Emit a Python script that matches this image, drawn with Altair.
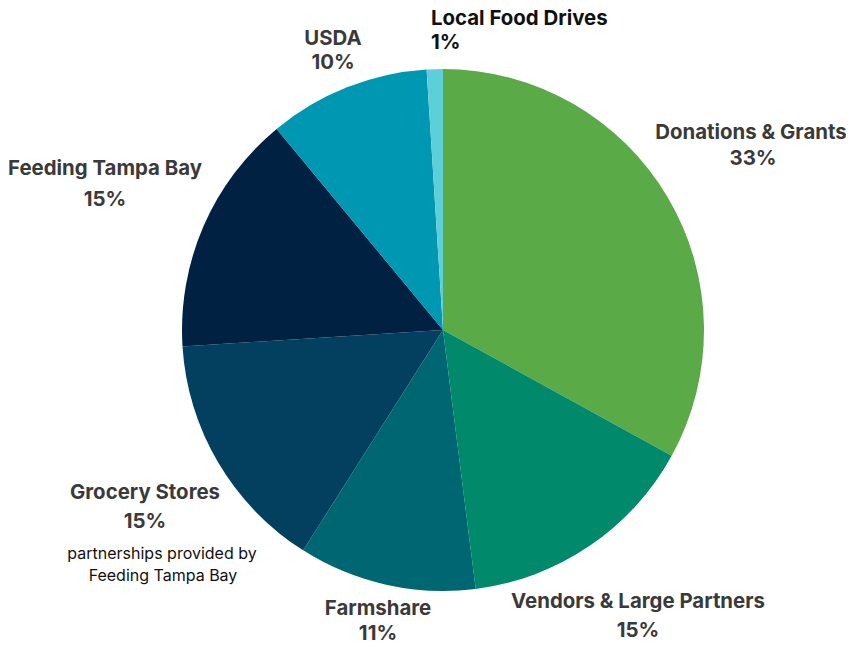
import altair as alt
import pandas as pd

categories = ["Donations & Grants", "Vendors & Large Partners", "Farmshare",
              "Grocery Stores", "Feeding Tampa Bay", "USDA", "Local Food Drives"]
shares = [33, 15, 11, 15, 15, 10, 1]
colors = ["#5aab48", "#00896a", "#006672", "#033f5f", "#002142", "#0097b2", "#5ccfd8"]

# label text lines and layout (pixel positions inside the plot area)
label_lines = ["Donations & Grants", "33%",
               "Vendors & Large Partners", "15%",
               "Farmshare", "11%",
               "Grocery Stores", "15%",
               "Feeding Tampa Bay", "15%",
               "USDA", "10%",
               "Local Food Drives", "1%"]
label_x = [743, 745, 630, 630, 370, 370, 137, 137, 97, 97, 325, 325, 423, 423]
label_y = [125, 151, 594, 623, 601, 626, 485, 514, 161, 192, 31, 55, 11, 35]
label_align = ["center"] * 12 + ["left", "left"]
label_color = ["#3a3a3a"] * 12 + ["#111111", "#111111"]

note_lines = ["partnerships provided by", "Feeding Tampa Bay"]
note_x = [154, 155]
note_y = [546, 568]

pie_df = pd.DataFrame({"category": categories, "share": shares,
                       "idx": list(range(len(categories)))})
lab_df = pd.DataFrame({"t": label_lines, "px": label_x, "py": label_y,
                       "al": label_align, "col": label_color})
note_df = pd.DataFrame({"t": note_lines, "px": note_x, "py": note_y})

pie = alt.Chart(pie_df).mark_arc(outerRadius=261).encode(
    theta=alt.Theta("share:Q", stack=True),
    order=alt.Order("idx:Q"),
    color=alt.Color("category:N", scale=alt.Scale(domain=categories, range=colors), legend=None),
    x=alt.value(435), y=alt.value(322),
)

def text_layer(df, align):
    return alt.Chart(df).transform_filter(alt.datum.al == align).mark_text(
        font="Inter", fontSize=20.4, fontWeight="bold", align=align, baseline="middle"
    ).encode(
        x=alt.X("px:Q", scale=None, axis=None),
        y=alt.Y("py:Q", scale=None, axis=None),
        text="t:N",
        color=alt.Color("col:N", scale=None),
    )

labels_c = text_layer(lab_df, "center")
labels_l = text_layer(lab_df, "left")

notes = alt.Chart(note_df).mark_text(
    font="Inter", fontSize=16, align="center", baseline="middle", color="#111111"
).encode(
    x=alt.X("px:Q", scale=None, axis=None),
    y=alt.Y("py:Q", scale=None, axis=None),
    text="t:N",
)

chart = alt.layer(pie, labels_c, labels_l, notes).properties(
    width=838, height=636, padding=0,
    autosize=alt.AutoSizeParams(type="none"),
).configure_view(stroke=None)

chart.save("out.html", embed_options={"renderer": "svg", "actions": False})
